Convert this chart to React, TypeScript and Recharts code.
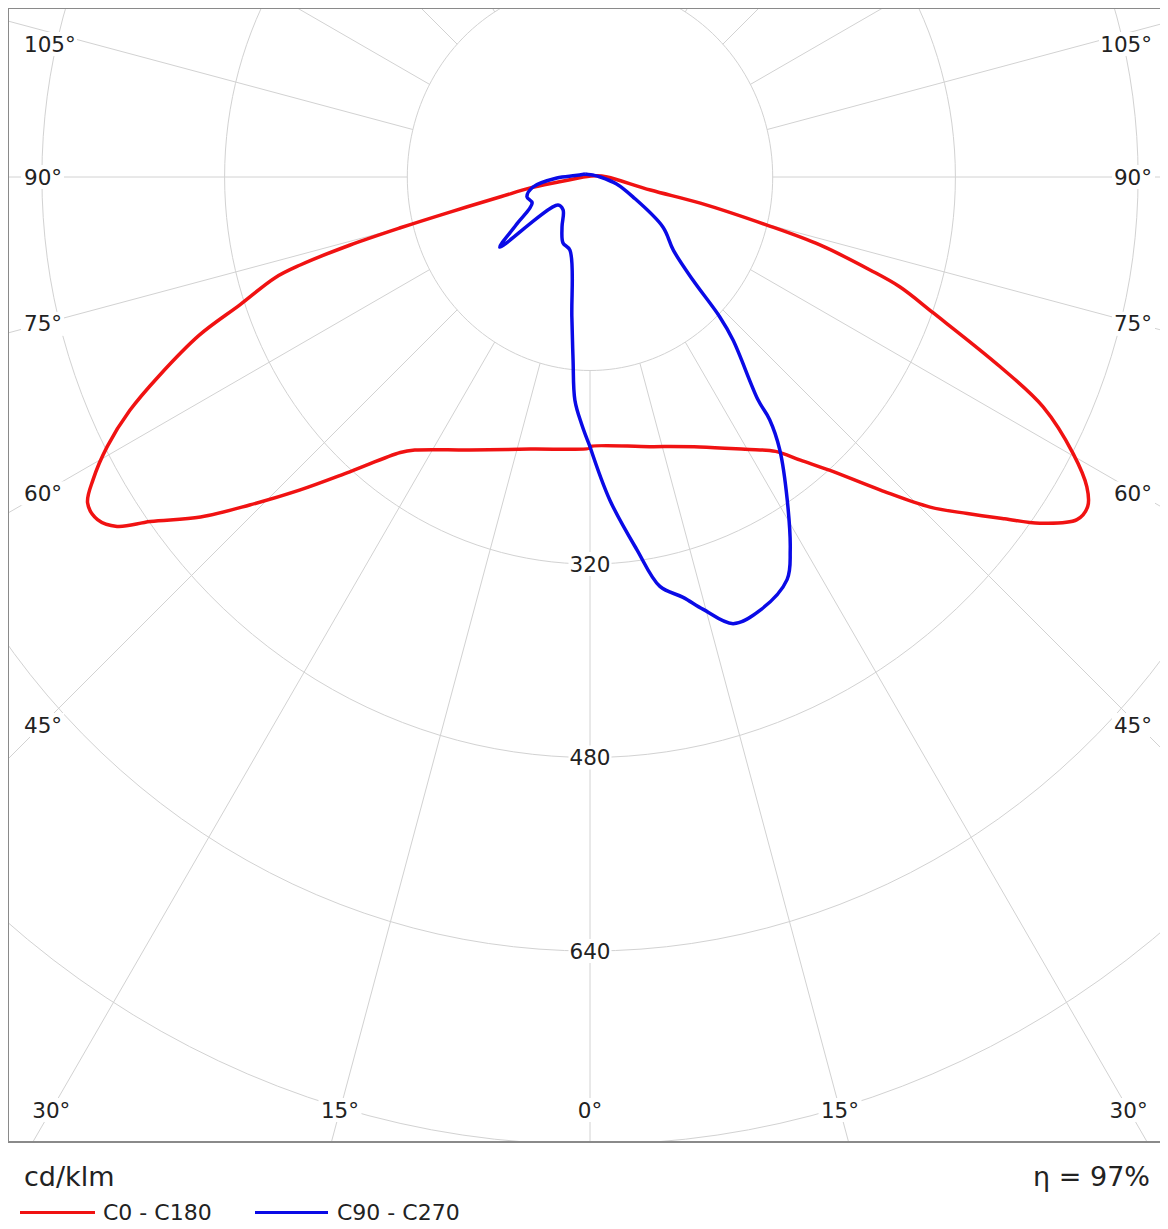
import React from 'react';
import { ComposedChart, Line, Scatter, XAxis, YAxis, ReferenceLine } from 'recharts';

// luminous intensity in cd/klm, by gamma angle (deg from nadir)
const C180_GAMMA = [0, 13.1, 25.0, 34.2, 36.1, 40.8, 44.5, 47.7, 50.5, 53.5, 55.1, 56.7, 58.5, 60.1, 62.2, 64.4, 66.5, 69.1, 71.0, 73.2, 74.0, 75.0, 75.8, 76.7, 78.2, 80.2, 81.5, 90];
const C180_CDKLM = [224, 231, 249, 273, 282, 322, 363, 403, 442, 479, 505, 516, 516, 502, 478, 447, 411, 366, 324, 288, 264, 218, 172, 126, 80, 53, 27, 6];

const C0_GAMMA = [0, 13.2, 23.3, 31.1, 35.6, 38.2, 40.9, 44.5, 47.5, 49.9, 52.1, 54.0, 56.4, 58.0, 59.5, 61.6, 64.4, 66.4, 69.5, 71.5, 72.6, 74.4, 75.6, 77.4, 78.5, 90, 100];
const C0_CDKLM = [223, 229, 243, 263, 279, 298, 321, 363, 404, 432, 460, 487, 512, 514, 505, 481, 440, 392, 321, 286, 257, 209, 160, 99, 54, 15, 6];

const C270_GAMMA = [0, 2.0, 4.1, 5.6, 7.8, 16.2, 23.4, 30.7, 40.9, 50.4, 53.7, 58.5, 67.1, 73.4, 80.6, 88.4, 95.4, 120];
const C270_CDKLM = [223, 205, 185, 152, 117, 63, 59.5, 48, 36, 36.4, 98, 76, 55, 57.6, 50.6, 29, 13, 5];

const C90_GAMMA = [0, 3.75, 7.6, 10.25, 13.2, 15.5, 18.75, 22.6, 27.4, 29.6, 32.9, 36.4, 38.1, 38.6, 42.9, 44.5, 46.6, 50.3, 57.1, 66.4, 76, 90, 110];
const C90_CDKLM = [223, 268, 311, 344, 357, 371, 390, 388, 375, 355, 318, 280, 255, 236, 184, 162, 124, 95, 76, 41, 24, 9, 4];

const RING_VALUES = [160, 320, 480, 640, 800, 960];
const RING_LABELS = [320, 480, 640];
const SPOKE_STEP = 15;
const SIDE_LABEL_ANGLES = [45, 60, 75, 90, 105];
const BOTTOM_LABEL_ANGLES = [-30, -15, 0, 15, 30];

// plot geometry (the picture is slightly taller than wide per cd/klm)
const KX = 182.7 / 160;
const KY = 193.5 / 160;
const PLOT_W = 1160;
const PLOT_H = 1134;
const CX = 582;
const CY = 169;
const X_DOMAIN: [number, number] = [-CX / KX, (PLOT_W - CX) / KX];
const Y_DOMAIN: [number, number] = [-CY / KY, (PLOT_H - CY) / KY];

const GRID = '#d2d2d2';
const TEXT = '#222222';
const FONT = '"DejaVu Sans", Verdana, sans-serif';
const RED = '#f01212';
const BLUE = '#0a0ae6';

const rad = (d: number) => (d * Math.PI) / 180;
const polar = (g: number, v: number, side: number) => ({
  x: side * v * Math.sin(rad(g)),
  y: v * Math.cos(rad(g)),
});

function buildCurve(lg: number[], lv: number[], rg: number[], rv: number[]) {
  const left = lg.map((g, i) => polar(g, lv[i], -1)).reverse();
  const right = rg.map((g, i) => polar(g, rv[i], 1));
  return [...left, ...right, left[0]];
}

const redData = buildCurve(C180_GAMMA, C180_CDKLM, C0_GAMMA, C0_CDKLM);
const blueData = buildCurve(C270_GAMMA, C270_CDKLM, C90_GAMMA, C90_CDKLM);

// centripetal catmull-rom through the points, so loops stay smooth without overshoot
function smoothCurve(context: any) {
  let pts: number[][] = [];
  return {
    areaStart() {},
    areaEnd() {},
    lineStart() { pts = []; },
    point(x: number, y: number) { pts.push([+x, +y]); },
    lineEnd() {
      if (!pts.length) return;
      context.moveTo(pts[0][0], pts[0][1]);
      for (let i = 0; i < pts.length - 1; i++) {
        const p0 = pts[i - 1] || pts[i];
        const p1 = pts[i];
        const p2 = pts[i + 1];
        const p3 = pts[i + 2] || p2;
        const l01 = Math.hypot(p1[0] - p0[0], p1[1] - p0[1]);
        const l12 = Math.hypot(p2[0] - p1[0], p2[1] - p1[1]);
        const l23 = Math.hypot(p3[0] - p2[0], p3[1] - p2[1]);
        const a01 = Math.sqrt(l01), a12 = Math.sqrt(l12), a23 = Math.sqrt(l23);
        let c1 = p1, c2 = p2;
        if (a01 > 1e-6) {
          const a = 2 * l01 + 3 * a01 * a12 + l12;
          const n = 3 * a01 * (a01 + a12);
          c1 = [(p1[0] * a - p0[0] * l12 + p2[0] * l01) / n, (p1[1] * a - p0[1] * l12 + p2[1] * l01) / n];
        }
        if (a23 > 1e-6) {
          const b = 2 * l23 + 3 * a23 * a12 + l12;
          const m = 3 * a23 * (a23 + a12);
          c2 = [(p2[0] * b + p1[0] * l23 - p3[0] * l12) / m, (p2[1] * b + p1[1] * l23 - p3[1] * l12) / m];
        }
        context.bezierCurveTo(c1[0], c1[1], c2[0], c2[1], p2[0], p2[1]);
      }
    },
  };
}

const rings = RING_VALUES.map(r =>
  Array.from({ length: 181 }, (_, i) => polar(i * 2, r, 1))
);

// spokes keep their true on-screen angle, starting at the first ring
const spokes = Array.from({ length: 360 / SPOKE_STEP }, (_, i) => {
  const g = rad(i * SPOKE_STEP);
  const dx = Math.sin(g) / KX;
  const dy = Math.cos(g) / KY;
  const t0 = RING_VALUES[0] / Math.hypot(dx, dy);
  const t1 = 1500;
  return [
    { x: dx * t0, y: dy * t0 },
    { x: dx * t1, y: dy * t1 },
  ];
});

const pxToData = (px: number, py: number) => ({ x: (px - CX) / KX, y: (py - CY) / KY });

const angleLabels = [
  ...SIDE_LABEL_ANGLES.flatMap(a => {
    const py = Math.max(36, CY + (548 * Math.cos(rad(a))) / Math.sin(rad(a)));
    return [
      { ...pxToData(16, py), text: `${a}°`, anchor: 'start' },
      { ...pxToData(1144, py), text: `${a}°`, anchor: 'end' },
    ];
  }),
  ...BOTTOM_LABEL_ANGLES.map(a => ({
    ...pxToData(CX + 933 * Math.tan(rad(a)), 1102),
    text: `${Math.abs(a)}°`,
    anchor: 'middle',
  })),
  ...RING_LABELS.map(v => ({ x: 0, y: v, text: String(v), anchor: 'middle' })),
];

const LabelShape = (props: any) => {
  const { cx, cy, payload } = props;
  const text: string = payload.text;
  const anchor: string = payload.anchor;
  const w = text.length * 13 + 4;
  const x0 = anchor === 'start' ? cx - 3 : anchor === 'end' ? cx - w + 3 : cx - w / 2;
  return (
    <g>
      <rect x={x0} y={cy - 12} width={w} height={24} fill="#ffffff" />
      <text
        x={cx}
        y={cy}
        textAnchor={anchor as any}
        dominantBaseline="central"
        fontFamily={FONT}
        fontSize={21.5}
        fill={TEXT}
      >
        {text}
      </text>
    </g>
  );
};

export default function App() {
  return (
    <div style={{ position: 'relative', width: PLOT_W, height: 1213, fontFamily: FONT, color: TEXT }}>
      <div style={{ position: 'absolute', left: -2, top: -2 }}>
        <ComposedChart
          width={PLOT_W + 2}
          height={PLOT_H + 4}
          margin={{ top: 2, right: 0, bottom: 2, left: 2 }}
        >
          <XAxis type="number" dataKey="x" domain={X_DOMAIN} allowDataOverflow hide />
          <YAxis type="number" dataKey="y" domain={Y_DOMAIN} allowDataOverflow reversed hide />
          {rings.map((d, i) => (
            <Line key={`ring${i}`} data={d} dataKey="y" type="linear" stroke={GRID} strokeWidth={1}
              dot={false} activeDot={false} isAnimationActive={false} />
          ))}
          {spokes.map((d, i) => (
            <Line key={`spoke${i}`} data={d} dataKey="y" type="linear" stroke={GRID} strokeWidth={1}
              dot={false} activeDot={false} isAnimationActive={false} />
          ))}
          <Scatter data={angleLabels} dataKey="y" shape={LabelShape} isAnimationActive={false} />
          <Line data={redData} dataKey="y" name="C0 - C180" type={smoothCurve as any} stroke={RED} strokeWidth={3.5}
            strokeLinejoin="round" dot={false} activeDot={false} isAnimationActive={false} />
          <Line data={blueData} dataKey="y" name="C90 - C270" type={smoothCurve as any} stroke={BLUE} strokeWidth={3.5}
            strokeLinejoin="round" dot={false} activeDot={false} isAnimationActive={false} />
          <ReferenceLine y={Y_DOMAIN[0]} stroke="#8a8a8a" strokeWidth={2} />
          <ReferenceLine y={Y_DOMAIN[1]} stroke="#8a8a8a" strokeWidth={2} />
          <ReferenceLine x={X_DOMAIN[0]} stroke="#8a8a8a" strokeWidth={2} />
        </ComposedChart>
      </div>

      <div style={{ position: 'absolute', left: 16, top: 1154, fontSize: 27, lineHeight: '30px' }}>cd/klm</div>
      <div style={{ position: 'absolute', right: 18, top: 1154, fontSize: 27, lineHeight: '30px' }}>η = 97%</div>

      <div style={{ position: 'absolute', left: 12, top: 1203, width: 75, height: 3, background: RED }} />
      <div style={{ position: 'absolute', left: 95, top: 1193, fontSize: 22, lineHeight: '24px' }}>C0 - C180</div>
      <div style={{ position: 'absolute', left: 247, top: 1203, width: 73, height: 3, background: BLUE }} />
      <div style={{ position: 'absolute', left: 329, top: 1193, fontSize: 22, lineHeight: '24px' }}>C90 - C270</div>
    </div>
  );
}
